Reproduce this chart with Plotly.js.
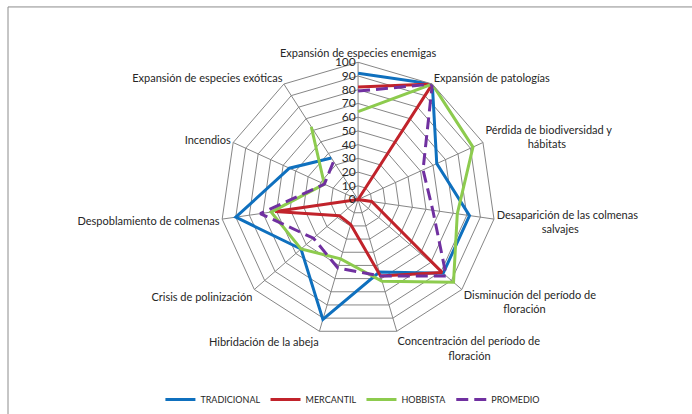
<!DOCTYPE html>
<html>
<head>
<meta charset="utf-8">
<script src="https://cdn.plot.ly/plotly-3.0.1.min.js"></script>
<style>
  html, body { margin: 0; padding: 0; background: #ffffff; }
  #chart { width: 692px; height: 414px; }
</style>
</head>
<body>
<div id="chart"></div>
<script>
// ----------------------------- datos -----------------------------
var sp = function (n) { return '\u00a0'.repeat(n); };  // centrar la 2a línea

var categorias = [
  'Expansión de especies enemigas',
  'Expansión de patologías',
  'Pérdida de biodiversidad y<br>' + sp(15) + 'hábitats',
  'Desaparición de las colmenas<br>' + sp(16) + 'salvajes',
  'Disminución del período de<br>' + sp(14) + 'floración',
  'Concentración del período de<br>' + sp(18) + 'floración',
  'Hibridación de la abeja',
  'Crisis de polinización',
  'Despoblamiento de colmenas',
  'Incendios',
  'Expansión de especies exóticas'
];

var tradicional = [92, 100, 63, 82, 82, 55, 91, 55, 90, 55, 36];
var mercantil   = [82, 100, 0, 10, 81, 58, 19, 18, 61, 0, 0];
var hobbista    = [64, 100, 92, 73, 92, 62, 45, 55, 64, 27, 63];
var promedio    = [79, 100, 52, 55, 85, 58, 52, 43, 72, 27, 33];

var ticksRadio = [0, 10, 20, 30, 40, 50, 60, 70, 80, 90, 100];

// ----------------------------- config -----------------------------
var config = {
  displayModeBar: false,
  displaylogo: false,
  staticPlot: true
};

var chart_font = {
  family: "Lato, 'Open Sans', sans-serif",
  size: 11,
  color: '#262626'
};

function serie(nombre, valores, color, dash) {
  return {
    type: 'scatterpolar',
    mode: 'lines',
    name: nombre,
    r: valores,
    theta: categorias,
    line: { color: color, width: 3, dash: dash },
    hoverinfo: 'skip'
  };
}

var data = [
  serie('TRADICIONAL', tradicional, '#0F70BE', 'solid'),
  serie('MERCANTIL', mercantil, '#C1232B', 'solid'),
  serie('HOBBISTA', hobbista, '#8DCB4E', 'solid'),
  serie('PROMEDIO', promedio, '#7030A0', '12px,6px')
];

// centro ~ (358, 201), radio ~ 138 px
var layout = {
  width: 692,
  height: 414,
  margin: { t: 0, r: 0, l: 0, b: 0 },
  paper_bgcolor: '#ffffff',
  plot_bgcolor: '#ffffff',
  font: chart_font,
  showlegend: true,
  polar: {
    domain: { x: [0.3175, 0.7174], y: [0.1804, 0.8485] },
    bgcolor: '#ffffff',
    gridshape: 'linear',
    angularaxis: {
      rotation: 90,
      direction: 'clockwise',
      showline: true,
      linecolor: '#868686',
      linewidth: 1,
      gridcolor: '#868686',
      gridwidth: 1,
      ticks: '',
      tickfont: chart_font
    },
    radialaxis: {
      range: [0, 100],
      tickvals: ticksRadio,
      ticktext: ticksRadio.map(String),
      angle: 90,
      side: 'counterclockwise',
      showline: false,
      gridcolor: '#868686',
      gridwidth: 1,
      ticks: '',
      tickangle: 90,
      tickfont: { family: "Lato, 'Open Sans', sans-serif", size: 12, color: '#262626' }
    }
  },
  legend: {
    orientation: 'h',
    x: 0.51,
    xanchor: 'center',
    y: 0.027,
    yanchor: 'middle',
    font: { family: "Lato, 'Open Sans', sans-serif", size: 9, color: '#262626' },
    itemwidth: 30,
    bgcolor: 'rgba(0,0,0,0)'
  },
  shapes: [{
    type: 'rect',
    xref: 'paper', yref: 'paper',
    x0: 8 / 692, x1: 1.2,
    y0: -0.2, y1: 1 - 7 / 414,
    line: { color: '#8c8c8c', width: 1 },
    fillcolor: 'rgba(0,0,0,0)',
    layer: 'below'
  }]
};

Plotly.newPlot('chart', data, layout, config);
</script>
</body>
</html>
